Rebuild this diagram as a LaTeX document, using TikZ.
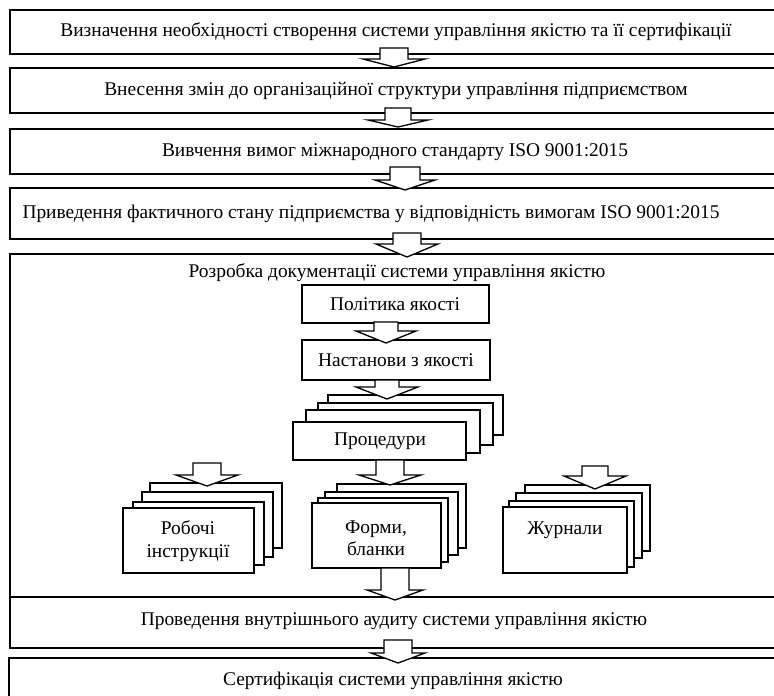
\documentclass[tikz,border=0pt]{standalone}
\usepackage{fontspec}
\setmainfont{Liberation Serif}
\begin{document}
\begin{tikzpicture}[x=1pt,y=-1pt,line join=miter]
\tikzset{
  frame/.style={draw=black,line width=1.4pt,fill=white,inner sep=0pt,outer sep=0pt,anchor=north west},
  lbl/.style={font=\fontsize{19.4}{22.5}\selectfont,inner sep=0pt,anchor=center,align=center},
  barrowstyle/.style={draw=black,line width=1.3pt,fill=white,line join=miter},
}
\newcommand\rbox[5]{\node[frame,minimum width={(#4)-(#2)},minimum height={(#5)-(#3)}] (#1) at (#2,#3) {};}
% cx, shaft top, head y, tip y, shaft half width, head half width
\newcommand\blockarrow[6]{\draw[barrowstyle] (#1-#5,#2) -- (#1+#5,#2) -- (#1+#5,#3) -- (#1+#6,#3) -- (#1,#4) -- (#1-#6,#3) -- (#1-#5,#3) -- cycle;}
\useasboundingbox (0,0) rectangle (774,696);
\begin{scope}
\clip (0,0) rectangle (774,696);
% main bars
\rbox{b1}{10}{10}{792}{54}
\rbox{b2}{10}{68}{792}{113}
\rbox{b3}{10}{129}{792}{174}
\rbox{b4}{10}{188}{792}{239}
\rbox{b5}{10}{254}{792}{597}
\rbox{b6}{10}{597}{792}{648}
\rbox{b7}{9}{658}{792}{720}
\node[lbl] (t1) at (396,32) {Визначення необхідності створення системи управління якістю та її сертифікації};
\node[lbl] (t2) at (396,91) {Внесення змін до організаційної структури управління підприємством};
\node[lbl] (t3) at (395,152) {Вивчення вимог міжнародного стандарту ISO 9001:2015};
\node[lbl] (t4) at (371,214) {Приведення фактичного стану підприємства у відповідність вимогам ISO 9001:2015};
\node[lbl] (t5) at (397,273) {Розробка документації системи управління якістю};
\node[lbl] (t6) at (394,621) {Проведення внутрішнього аудиту системи управління якістю};
\node[lbl] (t7) at (393,681) {Сертифікація системи управління якістю};
% inner boxes
\rbox{pol}{302}{285}{489}{323}
\node[lbl] (tpol) at (395,304) {Політика якості};
\rbox{nas}{302}{340}{490}{380}
\node[lbl] (tnas) at (396,360) {Настанови з якості};
% Procedures stack
\rbox{pr4}{328}{395}{503}{435}
\rbox{pr3}{318}{403}{493}{445}
\rbox{pr2}{306}{410}{480}{453}
\rbox{pr1}{293}{422}{466}{460}
\node[lbl] (tpr) at (380,441) {Процедури};
% Forms stack
\rbox{fo4}{337}{484}{466}{548}
\rbox{fo3}{325}{492}{458}{555}
\rbox{fo2}{318}{498}{448}{562}
\rbox{fo1}{312}{503}{441}{568}
\node[lbl] (tfo) at (376,538) {Форми,\\бланки};
% Work instructions stack
\rbox{ro4}{150}{483}{282}{548}
\rbox{ro3}{142}{492}{273}{557}
\rbox{ro2}{133}{502}{264}{565}
\rbox{ro1}{123}{508}{254}{573}
\node[lbl] (tro) at (188,541) {Робочі\\інструкції};
% Journals stack
\rbox{zh4}{525}{485}{650}{551}
\rbox{zh3}{516}{493}{642}{558}
\rbox{zh2}{509}{501}{634}{567}
\rbox{zh1}{503}{507}{627}{573}
\node[lbl] (tzh) at (565,530) {Журнали};
\end{scope}
% block arrows
\blockarrow{394}{48}{59}{67}{14}{31}
\blockarrow{398}{108}{120}{127}{13}{30}
\blockarrow{405}{167}{180}{190}{15}{30}
\blockarrow{407}{233}{244}{257}{14}{31}
\blockarrow{386}{322}{331}{343}{12}{30}
\blockarrow{387}{380}{387}{399}{12}{31}
\blockarrow{390}{460}{475}{485}{14}{31}
\blockarrow{395}{568}{590}{600}{14}{28}
\blockarrow{398}{640}{653}{663}{14}{27}
\blockarrow{207}{463}{475}{486}{14}{31}
\blockarrow{595}{466}{476}{489}{13}{31}
\end{tikzpicture}
\end{document}
